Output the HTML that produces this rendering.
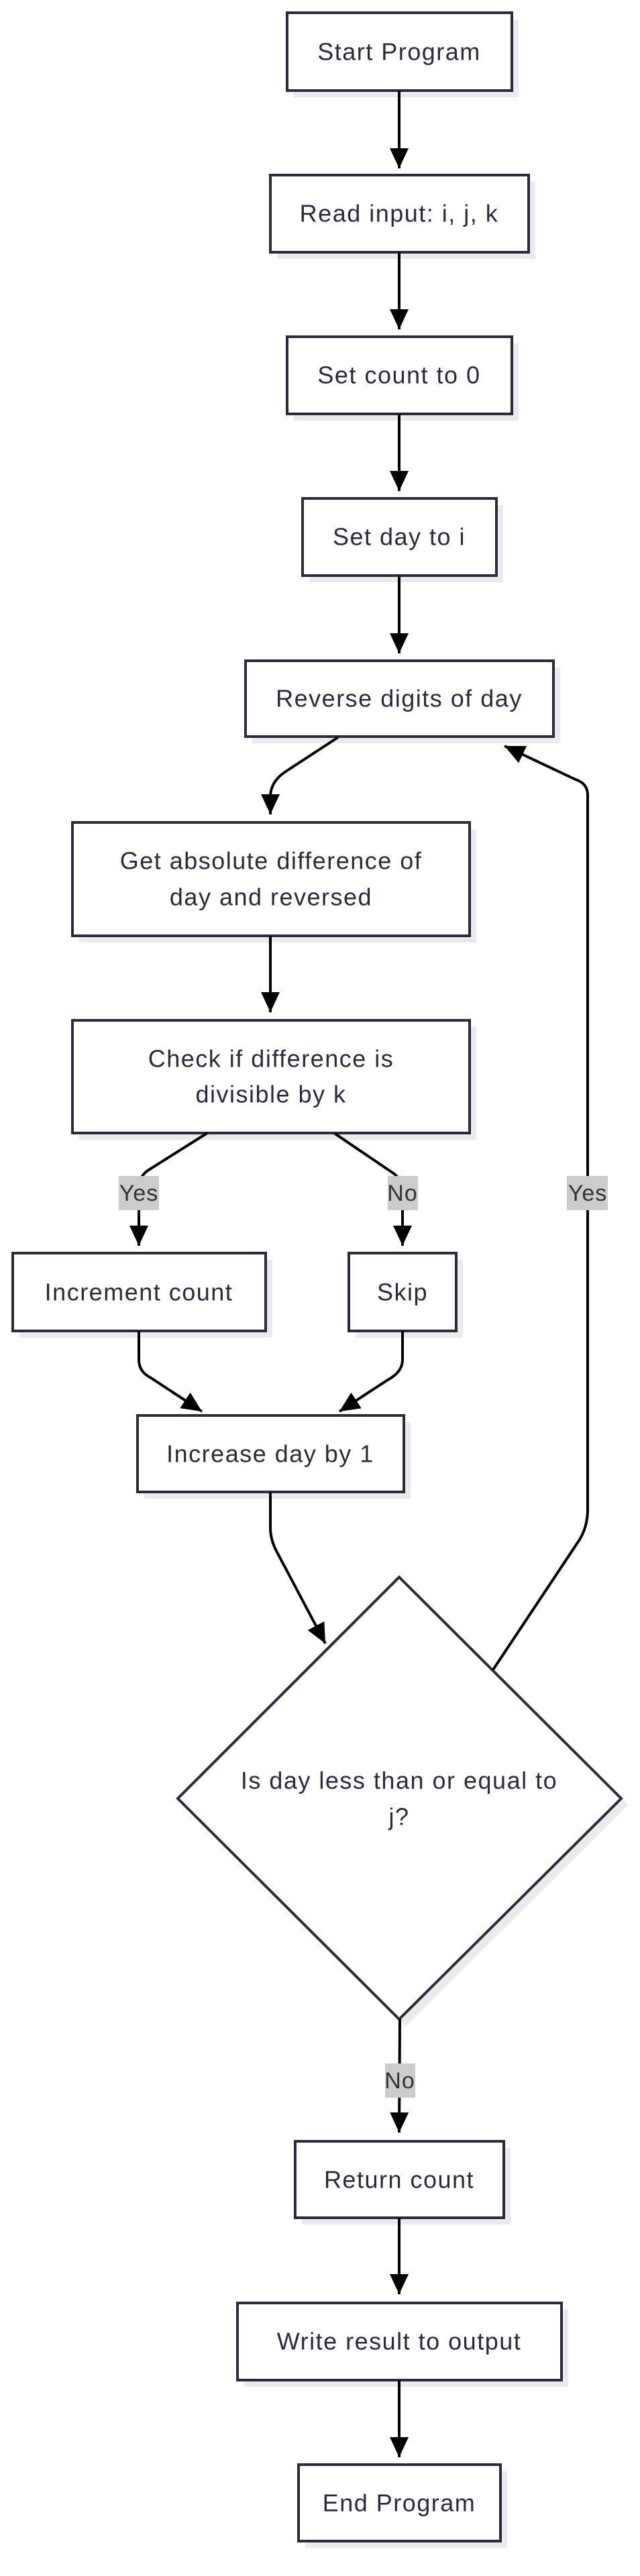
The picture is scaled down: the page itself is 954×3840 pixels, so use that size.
<!DOCTYPE html>
<html><head><meta charset="utf-8"><style>
html,body{margin:0;padding:0;background:#fff}
svg{display:block}
text{font-family:"Liberation Sans",sans-serif;fill:#2a2a3e;font-size:36px;text-anchor:middle;dominant-baseline:central;letter-spacing:1.5px}
.lbl{font-size:34px;fill:#333;letter-spacing:1px}
</style></head><body>
<svg width="954" height="3840" viewBox="0 0 954 3840" xmlns="http://www.w3.org/2000/svg">
<defs>
<marker id="ah" markerUnits="userSpaceOnUse" markerWidth="32" markerHeight="28" refX="30" refY="14" orient="auto">
<path d="M0,0 L30,14 L0,28 z" fill="#000"/>
</marker>
</defs>
<g fill="#ebebef">
<rect x="438" y="29" width="335" height="116"/>
<rect x="413" y="271" width="385" height="115"/>
<rect x="438" y="512" width="335" height="115"/>
<rect x="461" y="753" width="289" height="115"/>
<rect x="376" y="995" width="459" height="113"/>
<rect x="118" y="1236" width="592" height="169"/>
<rect x="118" y="1531" width="592" height="168"/>
<rect x="29" y="1878" width="377" height="116"/>
<rect x="530" y="1878" width="160" height="116"/>
<rect x="215" y="2120" width="397" height="114"/>
<polygon points="605,2361 936,2691 605,3020 275,2691"/>
<rect x="450" y="3202" width="311" height="114"/>
<rect x="364" y="3443" width="483" height="115"/>
<rect x="455" y="3684" width="301" height="114"/>
</g>
<g fill="#fff" stroke="#2b2b3d" stroke-width="4">
<rect x="428" y="19" width="335" height="116"/>
<rect x="403" y="261" width="385" height="115"/>
<rect x="428" y="502" width="335" height="115"/>
<rect x="451" y="743" width="289" height="115"/>
<rect x="366" y="985" width="459" height="113"/>
<rect x="108" y="1226" width="592" height="169"/>
<rect x="108" y="1521" width="592" height="168"/>
<rect x="19" y="1868" width="377" height="116"/>
<rect x="520" y="1868" width="160" height="116"/>
<rect x="205" y="2110" width="397" height="114"/>
<polygon points="595,2351 926,2681 595,3010 265,2681"/>
<rect x="440" y="3192" width="311" height="114"/>
<rect x="354" y="3433" width="483" height="115"/>
<rect x="445" y="3674" width="301" height="114"/>
</g>
<g fill="none" stroke="#000" stroke-width="4" marker-end="url(#ah)">
<path d="M595,135 L595,251"/>
<path d="M595,376 L595,491"/>
<path d="M595,617 L595,732"/>
<path d="M595,858 L595,974"/>
<path d="M504,1099 L426,1150 Q403,1165 403,1188 L403,1214"/>
<path d="M403,1395 L403,1509"/>
<path d="M309,1689 L220,1745 Q207,1755 207,1770 L207,1857"/>
<path d="M498,1689 L585,1748 Q600,1758 600,1775 L600,1857"/>
<path d="M207,1984 L207,2027 Q207,2045 225,2054 L301,2104"/>
<path d="M600,1984 L600,2027 Q600,2045 578,2057 L506,2104"/>
<path d="M403,2224 L403,2277 Q403,2295 412,2312 L485,2450"/>
<path d="M735,2489 L864,2295 Q876,2275 876,2250 L876,1185 Q876,1168 858,1162 L752,1112"/>
<path d="M596,3010 L595,3179"/>
<path d="M595,3306 L595,3420"/>
<path d="M595,3548 L595,3663"/>
</g>
<g fill="#cccccc">
<rect x="177" y="1753" width="60" height="51"/>
<rect x="578" y="1753" width="45" height="51"/>
<rect x="845" y="1753" width="61" height="51"/>
<rect x="574" y="3076" width="45" height="51"/>
</g>
<text class="lbl" x="207" y="1779">Yes</text>
<text class="lbl" x="600" y="1779">No</text>
<text class="lbl" x="876" y="1779">Yes</text>
<text class="lbl" x="596" y="3102">No</text>
<text x="595" y="77">Start Program</text>
<text x="595" y="318">Read input: i, j, k</text>
<text x="595" y="559">Set count to 0</text>
<text x="595" y="800">Set day to i</text>
<text x="595" y="1041">Reverse digits of day</text>
<text x="404" y="1283">Get absolute difference of</text>
<text x="404" y="1337">day and reversed</text>
<text x="404" y="1578">Check if difference is</text>
<text x="404" y="1631">divisible by k</text>
<text x="207" y="1926">Increment count</text>
<text x="600" y="1926">Skip</text>
<text x="403" y="2167">Increase day by 1</text>
<text x="595" y="2654">Is day less than or equal to</text>
<text x="595" y="2708">j?</text>
<text x="595" y="3249">Return count</text>
<text x="595" y="3490">Write result to output</text>
<text x="595" y="3731">End Program</text>
</svg>
</body></html>
